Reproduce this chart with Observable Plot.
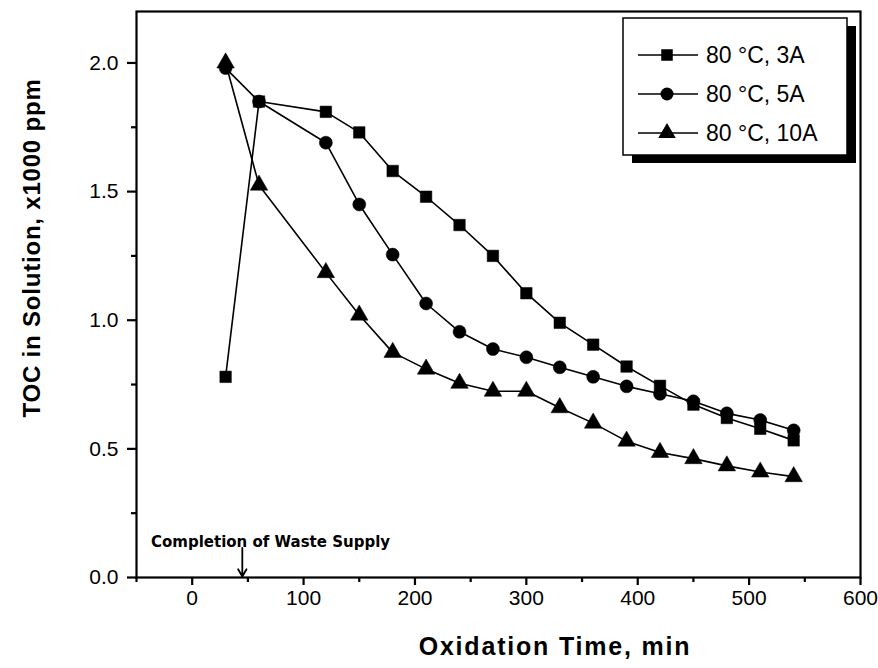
<!DOCTYPE html>
<html>
<head>
<meta charset="utf-8">
<script src="https://cdn.jsdelivr.net/npm/d3@7"></script>
<script src="https://cdn.jsdelivr.net/npm/@observablehq/plot@0.6"></script>
<style>
  html, body { margin: 0; padding: 0; background: #fff; }
  #chart { position: relative; width: 878px; height: 668px; }
</style>
</head>
<body>
<div id="chart"></div>
<script>
// ---- data ----
const seriesNames = ["80 °C, 3A", "80 °C, 5A", "80 °C, 10A"];
const seriesSymbols = ["square", "circle", "triangle"];
const time = [30, 60, 120, 150, 180, 210, 240, 270, 300, 330, 360, 390, 420, 450, 480, 510, 540];
const toc3A  = [0.78, 1.85, 1.81, 1.73, 1.58, 1.48, 1.37, 1.25, 1.105, 0.99, 0.905, 0.82, 0.745, 0.672, 0.62, 0.578, 0.533];
const toc5A  = [1.98, 1.85, 1.69, 1.45, 1.255, 1.065, 0.955, 0.888, 0.856, 0.817, 0.78, 0.743, 0.714, 0.685, 0.638, 0.612, 0.572];
const toc10A = [2.00, 1.525, 1.185, 1.02, 0.875, 0.81, 0.755, 0.724, 0.724, 0.66, 0.60, 0.53, 0.486, 0.462, 0.434, 0.41, 0.392];
const xMajorTicks = [0, 100, 200, 300, 400, 500, 600];
const xMinorTicks = [-50, 50, 150, 250, 350, 450, 550];
const yMajorTicks = [0.0, 0.5, 1.0, 1.5, 2.0];
const yMinorTicks = [0.25, 0.75, 1.25, 1.75];
const annotationText = ["Completion of Waste Supply"];
const annotationX = [45];

const allSeries = [toc3A, toc5A, toc10A];
const rows = [];
allSeries.forEach((vals, si) => {
  vals.forEach((v, i) => rows.push({series: seriesNames[si], sym: seriesSymbols[si], t: time[i], v}));
});

const font = "'Liberation Sans', Arial, sans-serif";

const plot = Plot.plot({
  width: 878,
  height: 668,
  marginLeft: 136,
  marginRight: 18,
  marginTop: 11,
  marginBottom: 91,
  style: {fontFamily: font, background: "white", color: "black"},
  x: {domain: [-50, 600]},
  y: {domain: [0, 2.2]},
  symbol: {domain: seriesNames, range: seriesSymbols},
  marks: [
    Plot.frame({stroke: "black", strokeWidth: 2.2}),
    Plot.axisX({ticks: xMajorTicks, tickSize: 8, text: null, label: null, strokeWidth: 2.2}),
    Plot.axisX({ticks: xMinorTicks, tickSize: 5, text: null, label: null, strokeWidth: 2.2}),
    Plot.axisY({ticks: yMajorTicks, tickSize: 9, text: null, label: null, strokeWidth: 2.2}),
    Plot.axisY({ticks: yMinorTicks, tickSize: 5, text: null, label: null, strokeWidth: 2.2}),
    Plot.text(xMajorTicks, {x: d => d, frameAnchor: "bottom", dy: 27, text: d => String(d), fontSize: 21, fill: "black", fontFamily: font}),
    Plot.text(yMajorTicks, {y: d => d, frameAnchor: "left", dx: -18, textAnchor: "end", text: d => d.toFixed(1), fontSize: 21, fill: "black", fontFamily: font}),
    Plot.line(rows, {x: "t", y: "v", z: "series", stroke: "black", strokeWidth: 1.6}),
    Plot.dot(rows, {x: "t", y: "v", symbol: "series", fill: "black", stroke: "black", strokeWidth: 0.5, r: 6.5}),
    Plot.arrow(annotationX, {x1: d => d, x2: d => d, y1: 0.115, y2: 0.004, stroke: "black", strokeWidth: 1.8, headLength: 7}),
    Plot.text(annotationText, {x: -37, y: 0.118, text: d => d, textAnchor: "start", lineAnchor: "bottom", fontSize: 15, fontWeight: "bold", fill: "black", fontFamily: "'DejaVu Sans', sans-serif", letterSpacing: "-0.2px"})
  ]
});

const svg = d3.select(plot);

// axis titles
svg.append("text")
  .attr("x", 555).attr("y", 655)
  .attr("text-anchor", "middle")
  .attr("font-family", font).attr("font-size", 25).attr("font-weight", "bold")
  .attr("letter-spacing", "1.8px")
  .text("Oxidation Time, min");
svg.append("text")
  .attr("transform", "translate(40,248) rotate(-90)")
  .attr("text-anchor", "middle")
  .attr("font-family", font).attr("font-size", 24).attr("font-weight", "bold")
  .attr("letter-spacing", "0.8px")
  .text("TOC in Solution, x1000 ppm");

// legend box with shadow
const lg = svg.append("g");
const bx = 623, by = 18, bw = 224, bh = 137;
lg.append("rect").attr("x", bx + 9).attr("y", by + 8).attr("width", bw).attr("height", bh).attr("fill", "black");
lg.append("rect").attr("x", bx).attr("y", by).attr("width", bw).attr("height", bh).attr("fill", "white").attr("stroke", "black").attr("stroke-width", 1.5);
const symGen = {square: d3.symbolSquare, circle: d3.symbolCircle, triangle: d3.symbolTriangle};
seriesNames.forEach((name, i) => {
  const cy = by + 37 + i * 39;
  lg.append("line").attr("x1", bx + 15).attr("x2", bx + 75).attr("y1", cy).attr("y2", cy).attr("stroke", "black").attr("stroke-width", 1.6);
  lg.append("path").attr("transform", `translate(${bx + 44},${cy})`)
    .attr("d", d3.symbol(symGen[seriesSymbols[i]], Math.PI * 6.5 * 6.5)()).attr("fill", "black");
  lg.append("text").attr("x", bx + 83).attr("y", cy + 8)
    .attr("text-anchor", "start")
    .attr("font-family", font).attr("font-size", 23).text(name);
});

document.getElementById("chart").appendChild(plot);
</script>
</body>
</html>
